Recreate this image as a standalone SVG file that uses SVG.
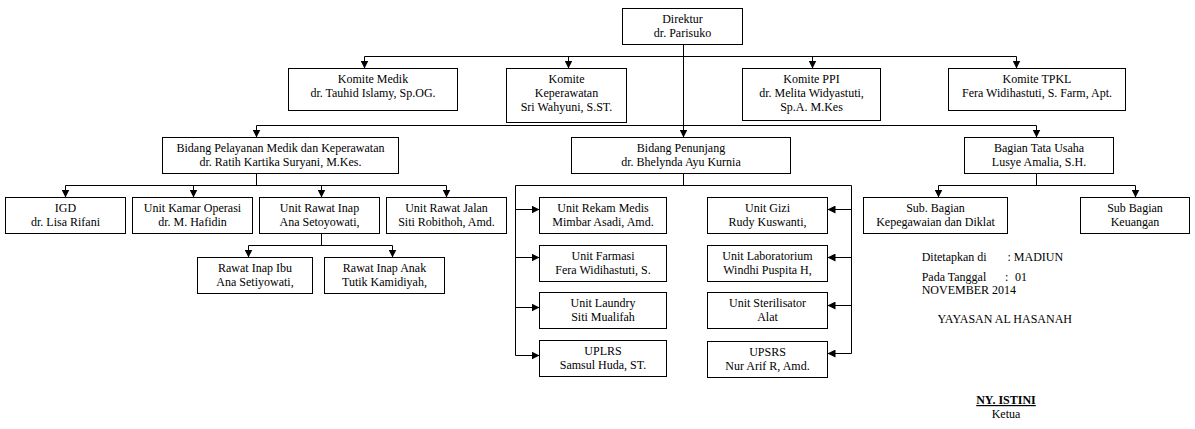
<svg xmlns="http://www.w3.org/2000/svg" width="1195" height="429" viewBox="0 0 1195 429">
<defs>
<marker id="ah" viewBox="0 0 8 8" markerWidth="8" markerHeight="8" refX="8" refY="4" orient="auto" markerUnits="userSpaceOnUse">
<path d="M0,0 L8,4 L0,8 z" fill="#000"/>
</marker>
<style>
rect{fill:#fff;stroke:#000;stroke-width:1}
text{font-family:"Liberation Serif","Times New Roman",serif;font-size:12px;fill:#000}
.c{text-anchor:middle}
.ln{fill:none;stroke:#000;stroke-width:1}
.ar{fill:none;stroke:#000;stroke-width:1;marker-end:url(#ah)}
</style>
</defs>
<rect x="0" y="0" width="1195" height="429" style="fill:#fff;stroke:none"/>

<g id="connectors">
<path class="ar" d="M683.5,44.5 V137.5"/>
<path class="ln" d="M364.5,56.5 H1016.5"/>
<path class="ar" d="M364.5,56.5 V68.5"/>
<path class="ar" d="M568.5,56.5 V68.5"/>
<path class="ar" d="M812.5,56.5 V68.5"/>
<path class="ar" d="M1016.5,56.5 V68.5"/>
<path class="ln" d="M256.5,125.5 H1036.5"/>
<path class="ar" d="M256.5,125.5 V137.5"/>
<path class="ar" d="M1036.5,125.5 V137.5"/>
<path class="ln" d="M256.5,173.5 V185.5 M65.5,185.5 H446.5"/>
<path class="ar" d="M65.5,185.5 V197.5"/>
<path class="ar" d="M193.5,185.5 V197.5"/>
<path class="ar" d="M321.5,185.5 V197.5"/>
<path class="ar" d="M446.5,185.5 V197.5"/>
<path class="ln" d="M321.5,233.5 V245.5 M248.5,245.5 H392.5"/>
<path class="ar" d="M248.5,245.5 V257.5"/>
<path class="ar" d="M392.5,245.5 V257.5"/>
<path class="ln" d="M683.5,173.5 V185.5 M515.5,355.5 V185.5 H851.5 V353.5"/>
<path class="ar" d="M515.5,209.5 H539.5"/>
<path class="ar" d="M515.5,257.5 H539.5"/>
<path class="ar" d="M515.5,307.5 H539.5"/>
<path class="ar" d="M515.5,355.5 H539.5"/>
<path class="ar" d="M851.5,209.5 H827.5"/>
<path class="ar" d="M851.5,257.5 H827.5"/>
<path class="ar" d="M851.5,305.5 H827.5"/>
<path class="ar" d="M851.5,353.5 H827.5"/>
<path class="ln" d="M1036.5,173.5 V185.5 M938.5,185.5 H1135.5"/>
<path class="ar" d="M938.5,185.5 V197.5"/>
<path class="ar" d="M1135.5,185.5 V197.5"/>
</g>

<g id="direktur"><rect x="622.5" y="8.5" width="120" height="36"/>
<text class="c" x="682.5" y="23">Direktur</text><text class="c" x="682.5" y="37">dr. Parisuko</text></g>

<g id="komite-medik"><rect x="288.5" y="68.5" width="169" height="42"/>
<text class="c" x="373" y="83">Komite Medik</text><text class="c" x="373" y="97">dr. Tauhid Islamy, Sp.OG.</text></g>

<g id="komite-keperawatan"><rect x="506.5" y="68.5" width="120" height="54"/>
<text class="c" x="566.5" y="83">Komite</text><text class="c" x="566.5" y="97">Keperawatan</text><text class="c" x="566.5" y="111">Sri Wahyuni, S.ST.</text></g>

<g id="komite-ppi"><rect x="742.5" y="68.5" width="138" height="52"/>
<text class="c" x="811.5" y="83">Komite PPI</text><text class="c" x="811.5" y="97">dr. Melita Widyastuti,</text><text class="c" x="811.5" y="111">Sp.A. M.Kes</text></g>

<g id="komite-tpkl"><rect x="948.5" y="68.5" width="177" height="42"/>
<text class="c" x="1037" y="83">Komite TPKL</text><text class="c" x="1037" y="97">Fera Widihastuti, S. Farm, Apt.</text></g>

<g id="bidang-pelayanan"><rect x="162.5" y="137.5" width="236" height="36"/>
<text class="c" x="280.5" y="152">Bidang Pelayanan Medik dan Keperawatan</text><text class="c" x="280.5" y="166">dr. Ratih Kartika Suryani, M.Kes.</text></g>

<g id="bidang-penunjang"><rect x="571.5" y="137.5" width="219" height="36"/>
<text class="c" x="681" y="152">Bidang Penunjang</text><text class="c" x="681" y="166">dr. Bhelynda Ayu Kurnia</text></g>

<g id="bagian-tata-usaha"><rect x="964.5" y="137.5" width="149" height="36"/>
<text class="c" x="1039" y="152">Bagian Tata Usaha</text><text class="c" x="1039" y="166">Lusye Amalia, S.H.</text></g>

<g id="igd"><rect x="5.5" y="197.5" width="120" height="36"/>
<text class="c" x="65.5" y="212">IGD</text><text class="c" x="65.5" y="226">dr. Lisa Rifani</text></g>

<g id="unit-kamar-operasi"><rect x="132.5" y="197.5" width="120" height="36"/>
<text class="c" x="192.5" y="212">Unit Kamar Operasi</text><text class="c" x="192.5" y="226">dr. M. Hafidin</text></g>

<g id="unit-rawat-inap"><rect x="259.5" y="197.5" width="120" height="36"/>
<text class="c" x="319.5" y="212">Unit Rawat Inap</text><text class="c" x="319.5" y="226">Ana Setoyowati,</text></g>

<g id="unit-rawat-jalan"><rect x="386.5" y="197.5" width="120" height="36"/>
<text class="c" x="446.5" y="212">Unit Rawat Jalan</text><text class="c" x="446.5" y="226">Siti Robithoh, Amd.</text></g>

<g id="rawat-inap-ibu"><rect x="197.5" y="257.5" width="115" height="36"/>
<text class="c" x="255" y="272">Rawat Inap Ibu</text><text class="c" x="255" y="286">Ana Setiyowati,</text></g>

<g id="rawat-inap-anak"><rect x="324.5" y="257.5" width="120" height="36"/>
<text class="c" x="384.5" y="272">Rawat Inap Anak</text><text class="c" x="384.5" y="286">Tutik Kamidiyah,</text></g>

<g id="unit-rekam-medis"><rect x="539.5" y="197.5" width="127" height="36"/>
<text class="c" x="603" y="212">Unit Rekam Medis</text><text class="c" x="603" y="226">Mimbar Asadi, Amd.</text></g>

<g id="unit-farmasi"><rect x="539.5" y="245.5" width="127" height="36"/>
<text class="c" x="603" y="260">Unit Farmasi</text><text class="c" x="603" y="274">Fera Widihastuti, S.</text></g>

<g id="unit-laundry"><rect x="539.5" y="292.5" width="127" height="36"/>
<text class="c" x="603" y="307">Unit Laundry</text><text class="c" x="603" y="321">Siti Mualifah</text></g>

<g id="uplrs"><rect x="539.5" y="340.5" width="127" height="36"/>
<text class="c" x="603" y="355">UPLRS</text><text class="c" x="603" y="369">Samsul Huda, ST.</text></g>

<g id="unit-gizi"><rect x="707.5" y="197.5" width="120" height="36"/>
<text class="c" x="767.5" y="212">Unit Gizi</text><text class="c" x="767.5" y="226">Rudy Kuswanti,</text></g>

<g id="unit-laboratorium"><rect x="707.5" y="245.5" width="120" height="36"/>
<text class="c" x="767.5" y="260">Unit Laboratorium</text><text class="c" x="767.5" y="274">Windhi Puspita H,</text></g>

<g id="unit-sterilisator"><rect x="707.5" y="292.5" width="120" height="36"/>
<text class="c" x="767.5" y="307">Unit Sterilisator</text><text class="c" x="767.5" y="321">Alat</text></g>

<g id="upsrs"><rect x="707.5" y="341.5" width="120" height="36"/>
<text class="c" x="767.5" y="356">UPSRS</text><text class="c" x="767.5" y="370">Nur Arif R, Amd.</text></g>

<g id="sub-bagian-kepegawaian"><rect x="863.5" y="197.5" width="144" height="36"/>
<text class="c" x="935.5" y="212">Sub. Bagian</text><text class="c" x="935.5" y="226">Kepegawaian dan Diklat</text></g>

<g id="sub-bagian-keuangan"><rect x="1080.5" y="197.5" width="109" height="36"/>
<text class="c" x="1135" y="212">Sub Bagian</text><text class="c" x="1135" y="226">Keuangan</text></g>

<g id="pengesahan">
<text x="921.7" y="260.5">Ditetapkan di</text>
<text x="1007.5" y="260.5">: MADIUN</text>
<text x="921.7" y="280.5">Pada Tanggal</text>
<text x="1005" y="280.5">:</text>
<text x="1015" y="280.5">01</text>
<text x="921.7" y="293.5">NOVEMBER 2014</text>
<text x="937.5" y="323">YAYASAN AL HASANAH</text>
<text class="c" x="1006" y="404" style="font-weight:bold;text-decoration:underline">NY. ISTINI</text>
<text class="c" x="1006" y="417.5">Ketua</text>
</g>
</svg>
